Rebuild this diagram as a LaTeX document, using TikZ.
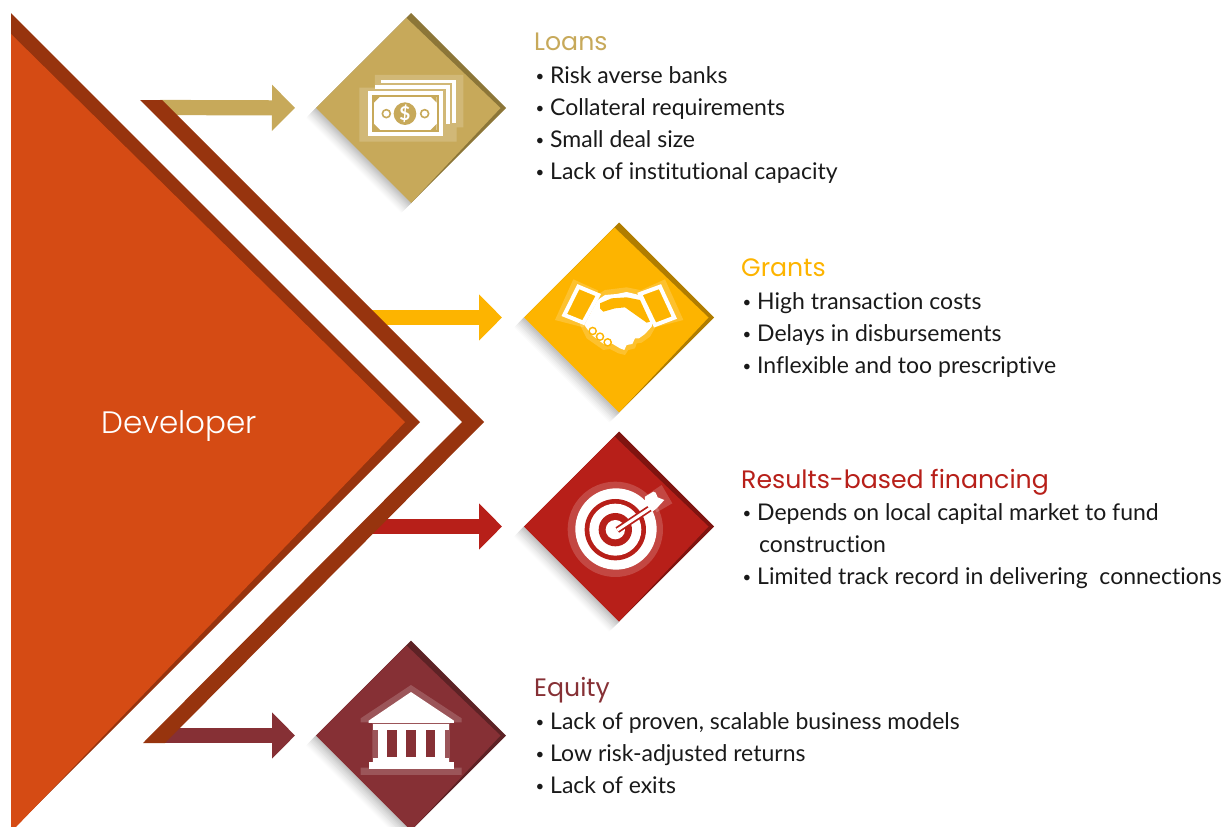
\documentclass[tikz,border=0pt]{standalone}
\usepackage{fontspec}
\setmainfont{Lato}[Ligatures=NoCommon]
\newfontfamily\headfont{Poppins}
\newfontfamily\devfont{Poppins}[UprightFont=* Light]
\usetikzlibrary{shapes.geometric,arrows.meta,calc}
\definecolor{devface}{HTML}{D54B14}
\definecolor{devedge}{HTML}{97340E}
\definecolor{loanface}{HTML}{C7A95A}
\definecolor{loanedge}{HTML}{8C7638}
\definecolor{grantface}{HTML}{FDB400}
\definecolor{grantedge}{HTML}{B07D00}
\definecolor{rbfface}{HTML}{B71F19}
\definecolor{rbfedge}{HTML}{7F1410}
\definecolor{equityface}{HTML}{863035}
\definecolor{equityedge}{HTML}{5D2225}
\tikzset{
  card/.style={shape=diamond, minimum size=190pt, inner sep=0pt, outer sep=0pt},
  head/.style={anchor=base west, inner sep=0pt, font=\headfont\fontsize{25.2}{25}\selectfont},
  item/.style={anchor=base west, inner sep=0pt, text=black!90, font=\fontsize{23}{23}\selectfont},
  flow/.style={line width=15.2pt, -{Triangle[length=23pt,width=45pt]}},
  halo/.style={white, opacity=0.18}
}
\newcommand{\bul}{\makebox[14.5pt][l]{\raisebox{2pt}{\fontsize{15}{15}\selectfont •}}}
% card with shadow, edge and face: name, x, y, face, edge
\newcommand{\fundcard}[5]{
  \node [card, fill=#5] (#1) at (#2, #3){};
  \foreach \d/\g in {10/1, 9/3, 8/5, 7/7, 6/10, 5/12, 4/15, 3/18, 2/21, 1/24}{
    \fill [black!\g] (#1.west)--(#1.south)--++(-\d, \d)--($(#1.west)+(-\d, \d)$)--cycle;
  }
  \fill [#4] (#1.west)--($(#1.north)+(-4.5, 5)$)--($(#1.east)+(-5.5, 0)$)--(#1.south)--cycle;
}
\begin{document}
\begin{tikzpicture}[x=1pt, y=-1pt]
  \useasboundingbox (0, 0) rectangle (1226, 827);
  \clip (0, 0) rectangle (1226, 827);

  % cards
  \fundcard{loans}{411}{108}{loanface}{loanedge}
  \fundcard{grants}{619}{317.5}{grantface}{grantedge}
  \fundcard{rbf}{619}{526.5}{rbfface}{rbfedge}
  \fundcard{equity}{411}{735.5}{equityface}{equityedge}

  % arrows run under the chevron
  \coordinate (loansfrom) at (160, 107.5);
  \coordinate (grantsfrom) at (369, 317.5);
  \coordinate (rbffrom) at (369, 526.5);
  \coordinate (equityfrom) at (160, 735.5);
  \draw [flow, loanface, shorten >=21pt] (loansfrom)--(loans.west);
  \draw [flow, grantface, shorten >=22pt] (grantsfrom)--(grants.west);
  \draw [flow, rbfface, shorten >=22pt] (rbffrom)--(rbf.west);
  \draw [flow, equityface, shorten >=21pt] (equityfrom)--(equity.west);

  % developer
  \fill [devedge] (11, 13)--(420, 422)--(11, 831)--cycle;
  \fill [devface] (11, 34)--(405, 422)--(16, 827)--(11, 827)--cycle;
  \node [anchor=base west, text=white, inner sep=0pt, font=\devfont\fontsize{31}{31}\selectfont] (developer) at (101, 433){Developer};

  % chevron
  \fill [devedge] (140, 100)--(162, 100)--(484, 422)--(165, 743)--(143, 743)--(462, 422)--cycle;

  % loans icon
  \begin{scope}[shift={(300, 0)}, x=0.3333pt, y=-0.3333pt]
    \fill [halo] (225, 225)--(490, 225)--(490, 382)--(470, 382)--(470, 425)--(178, 425)--(178, 263)--(225, 263)--cycle;
    \fill [white] (243, 240) rectangle (468, 250);
    \fill [white] (455, 240) rectangle (468, 370);
    \fill [white] (225, 255) rectangle (450, 268);
    \fill [white] (438, 255) rectangle (450, 373);
    \fill [white] (203, 272) rectangle (428, 408);
    \fill [loanface] (215, 285) rectangle (416, 396);
    \fill [white] (222, 290) rectangle (410, 390);
    \fill [loanface] (222, 290)--(240, 290)--(222, 308)--cycle;
    \fill [loanface] (410, 290)--(392, 290)--(410, 308)--cycle;
    \fill [loanface] (222, 390)--(240, 390)--(222, 372)--cycle;
    \fill [loanface] (410, 390)--(392, 390)--(410, 372)--cycle;
    \fill [loanface] (315, 341) circle (34);
    \node [text=white, inner sep=0pt, font=\bfseries\fontsize{19}{19}\selectfont] (dollar) at (315, 341){\$};
    \draw [loanface, line width=1.6pt] (259, 341) circle (12);
    \draw [loanface, line width=1.6pt] (374, 341) circle (12);
  \end{scope}

  % grants icon
  \begin{scope}[shift={(555, 270)}, x=0.3333pt, y=-0.3333pt]
    \fill [halo] (55, 28)--(130, 62)--(85, 172)--(0, 150)--cycle;
    \fill [halo] (330, 28)--(255, 62)--(300, 172)--(385, 150)--cycle;
    \fill [halo] (110, 85)--(150, 60)--(215, 52)--(255, 60)--(305, 165)--(285, 200)--(260, 218)--(245, 220)--(240, 235)--(220, 240)--(210, 255)--(190, 250)--(165, 237)--(145, 240)--(95, 205)--(75, 165)--cycle;
    \draw [white, fill=grantface, line width=4pt] (70, 50)--(130, 75)--(85, 158)--(28, 135)--cycle;
    \draw [white, fill=grantface, line width=4pt] (315, 50)--(358, 143)--(300, 165)--(255, 72)--cycle;
    \fill [white] (128, 90)--(150, 75)--(185, 72)--(215, 66)--(252, 75)--(292, 155)--(290, 170)--(270, 192)--(252, 205)--(240, 205)--(232, 222)--(215, 225)--(208, 240)--(195, 235)--(170, 220)--(150, 225)--(110, 195)--(88, 165)--cycle;
    \fill [grantface] (135, 100)--(170, 85)--(215, 82)--(255, 90)--(285, 155)--(275, 158)--(210, 112)--(180, 115)--(145, 125)--(135, 115)--cycle;
    \foreach \cx/\cy in {113/183, 135/200, 158/217}{
      \fill [grantface] (\cx, \cy) circle (13);
      \fill [white] (\cx, \cy) circle (8);
    }
  \end{scope}

  % results icon
  \begin{scope}[shift={(510, 425)}, x=0.3333pt, y=-0.3333pt]
    \fill [halo] (316, 313) circle (143);
    \fill [white] (318, 312) circle (122);
    \fill [rbfface] (316, 314) circle (92);
    \fill [white] (316, 314) circle (78);
    \fill [rbfface] (316, 314) circle (50);
    \fill [white] (316, 314) circle (29);
    \fill [halo] (410, 210)--(455, 180)--(487, 235)--(440, 262)--cycle;
    \draw [rbfface, line width=6.5pt] (322, 315)--(420, 250);
    \draw [white, line width=3pt] (322, 315)--(420, 250);
    \fill [white] (405, 215)--(430, 200)--(437, 203)--(443, 217)--(463, 225)--(440, 250)--(427, 260)--(405, 235)--cycle;
  \end{scope}

  % equity icon
  \begin{scope}[shift={(300, 635)}, x=0.3333pt, y=-0.3333pt]
    \fill [halo] (333, 150)--(485, 250)--(485, 262)--(450, 262)--(450, 398)--(485, 398)--(485, 420)--(182, 420)--(182, 398)--(217, 398)--(217, 262)--(182, 262)--(182, 250)--cycle;
    \fill [white] (333, 171)--(462, 257)--(462, 264)--(206, 264)--(206, 257)--cycle;
    \fill [white] (220, 268) rectangle (448, 285);
    \fill [white] (234, 285) rectangle (434, 368);
    \foreach \cx in {262, 319, 377}{
      \fill [equityface] (\cx, 285) rectangle (\cx+28, 367);
    }
    \fill [white] (220, 368) rectangle (448, 382);
    \fill [white] (206, 382) rectangle (462, 401);
  \end{scope}

  % loans text
  \node [head, text=loanface] (loanshead) at (534, 50){Loans};
  \node [item] (loans1) at (535.5, 83){\bul Risk averse banks};
  \node [item] (loans2) at (535.5, 115){\bul Collateral requirements};
  \node [item] (loans3) at (535.5, 147){\bul Small deal size};
  \node [item] (loans4) at (535.5, 179){\bul Lack of institutional capacity};

  % grants text
  \node [head, text=grantface] (grantshead) at (741, 276){Grants};
  \node [item] (grants1) at (742.5, 309){\bul High transaction costs};
  \node [item] (grants2) at (742.5, 341){\bul Delays in disbursements};
  \node [item] (grants3) at (742.5, 373){\bul Inflexible and too prescriptive};

  % results text
  \node [head, text=rbfface] (rbfhead) at (741, 488){Results-based financing};
  \node [item] (rbf1) at (742.5, 520){\bul Depends on local capital market to fund};
  \node [item] (rbf2) at (759, 552){construction};
  \node [item] (rbf3) at (742.5, 584){\bul Limited track record in delivering\ \ connections};

  % equity text
  \node [head, text=equityface] (equityhead) at (534, 696){Equity};
  \node [item] (equity1) at (535.5, 729){\bul Lack of proven, scalable business models};
  \node [item] (equity2) at (535.5, 761){\bul Low risk-adjusted returns};
  \node [item] (equity3) at (535.5, 793){\bul Lack of exits};
\end{tikzpicture}
\end{document}
